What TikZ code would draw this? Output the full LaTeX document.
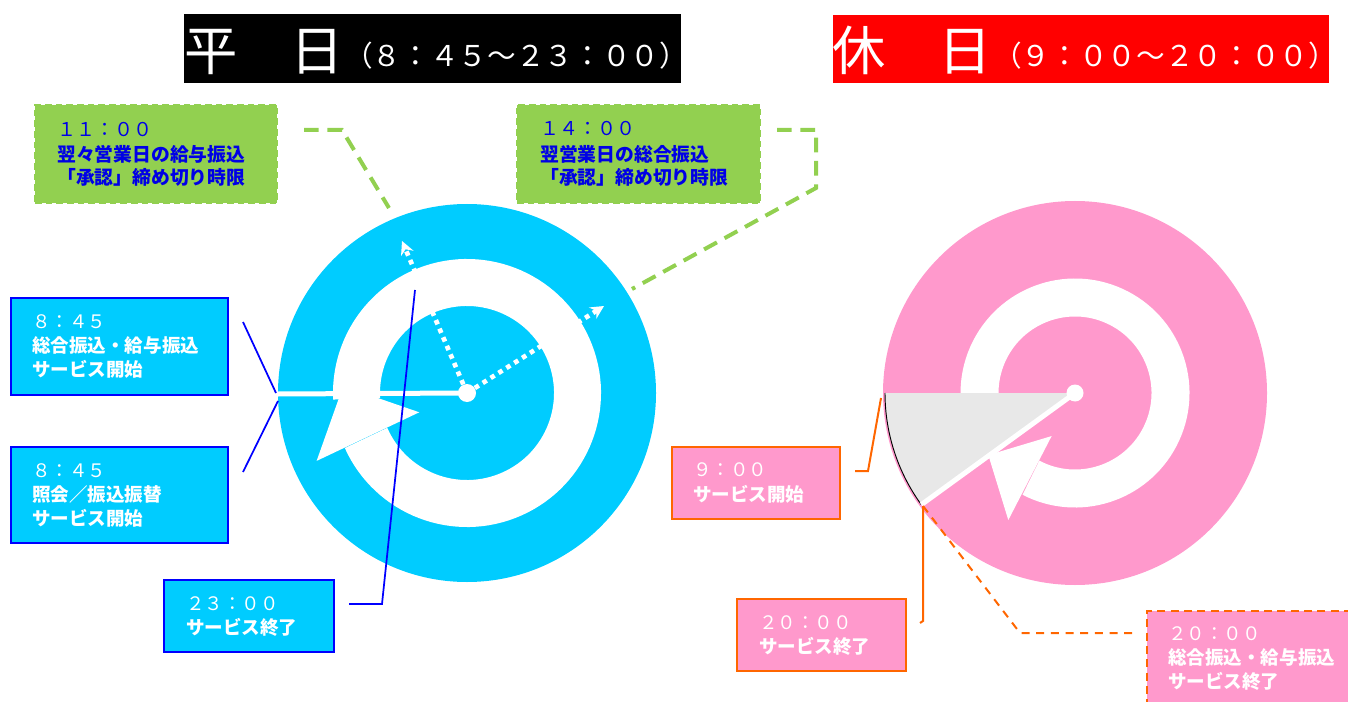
\documentclass[tikz,border=0pt]{standalone}
\usepackage{fontspec}
\newfontfamily\jp{Noto Sans CJK JP}
\usetikzlibrary{arrows.meta,fit,calc}
\definecolor{cyanb}{HTML}{00CCFF}
\definecolor{pinkb}{HTML}{FF99CC}
\definecolor{grn}{HTML}{92D050}
\definecolor{org}{HTML}{FF6600}
\definecolor{bluet}{RGB}{0,0,230}
\definecolor{bluel}{HTML}{0000FF}
\definecolor{wedgec}{HTML}{E8E8E8}
\begin{document}
\begin{tikzpicture}[x=0.75pt,y=-0.75pt,
  txt/.style={anchor=base west, inner sep=0pt, text=white, font=\jp\fontsize{13.9}{16}\selectfont},
  txtb/.style={txt, font=\jp\bfseries\fontsize{13.9}{16}\selectfont},
  gtxt/.style={txt, text=bluet, font=\jp\fontsize{14.3}{16}\selectfont},
  gtxtb/.style={txt, text=bluet, font=\jp\bfseries\fontsize{14.1}{16}\selectfont},
  ttlbig/.style={anchor=base west, inner sep=0pt, text=white, font=\jp\fontsize{40}{42}\selectfont},
  ttlsm/.style={anchor=base west, inner sep=0pt, text=white, font=\jp\fontsize{21.5}{24}\selectfont},
  cbox/.style={inner sep=0pt, fill=cyanb, draw=bluel, line width=1.5pt},
  gbox/.style={inner sep=0pt, fill=grn, draw=grn, line width=2pt, dash pattern=on 5pt off 3pt},
  pbox/.style={inner sep=0pt, fill=pinkb, draw=org, line width=1.6pt},
  pdbox/.style={inner sep=0pt, fill=pinkb, draw=org, line width=1.6pt, dash pattern=on 6pt off 4pt},
  gline/.style={draw=grn, line width=3pt, dash pattern=on 11pt off 6.5pt},
  bline/.style={draw=bluel, line width=1.3pt},
  oline/.style={draw=org, line width=1.5pt},
  odline/.style={draw=org, line width=1.5pt, dash pattern=on 6pt off 5pt},
  hand/.style={draw=white, line width=3.75pt},
  dhand/.style={draw=white, line width=3.5pt, dash pattern=on 3.5pt off 3.5pt, -{Stealth[length=10pt,width=10pt]}},
]
\useasboundingbox (0,0) rectangle (1348,702);
\clip (0,0) rectangle (1348,702);

% titles
\node[fit={(184,14) (681,83)}, inner sep=0pt, fill=black] (tL) {};
\node[ttlbig] (tL1) at (184,71) {平　日};
\node[ttlsm] (tL2) at (344,67) {（８：４５～２３：００）};
\node[fit={(833,15) (1329,83)}, inner sep=0pt, fill=red] (tR) {};
\node[ttlbig] (tR1) at (832,71) {休　日};
\node[ttlsm] (tR2) at (993,67) {（９：００～２０：００）};

% left clock
\coordinate (C1) at (467,393);
\fill[cyanb] (C1) circle[radius=189];
\draw[white, line width=35.25pt] ($(C1)+(156:110.5)$) arc[start angle=156, end angle=-183, radius=110.5];
\fill[white] ($(C1)+(-176.8:124)$) -- ($(C1)+(-204.3:165)$) -- ($(C1)+(-202:51.5)$) -- cycle;
\coordinate (H1) at (278,394);
\draw[hand] (C1) -- (H1);
\coordinate (D1) at (402,241);
\coordinate (D2) at (604,306);
\draw[dhand] (C1) -- (D1);
\draw[dhand] (C1) -- (D2);
\fill[white] (C1) circle[radius=9];

% right clock
\coordinate (C2) at (1075,393);
\fill[pinkb] (C2) circle[radius=192];
\draw[white, line width=28.5pt] ($(C2)+(117.5:95.5)$) arc[start angle=117.5, end angle=-205, radius=95.5];
\fill[white] ($(C2)+(-215.6:106.6)$) -- ($(C2)+(-242.3:143.5)$) -- ($(C2)+(-241.5:49)$) -- cycle;
\coordinate (W0) at ($(C2)+(-180:190)$);
\coordinate (WE) at ($(C2)+(-216:190)$);
\fill[wedgec] (C2) -- (W0) arc[start angle=-180, end angle=-216, radius=190] -- cycle;
\draw[black, line width=0.7pt] (W0) arc[start angle=-180, end angle=-216, radius=190];
\draw[hand] (C2) -- (WE);
\fill[white] (C2) circle[radius=8.5];

% green callouts
\node[gbox, fit={(35,105) (277,203)}] (g1) {};
\node[gtxt] (g1a) at (57,137) {１１：００};
\node[gtxtb] (g1b) at (57,161.5) {翌々営業日の給与振込};
\node[gtxtb] (g1c) at (57,185) {「承認」締め切り時限};
\node[gbox, fit={(517,105) (760,203)}] (g2) {};
\node[gtxt] (g2a) at (540,136) {１４：００};
\node[gtxtb] (g2b) at (540,161.5) {翌営業日の総合振込};
\node[gtxtb] (g2c) at (540,185) {「承認」締め切り時限};
\coordinate (ga1) at (304,130);
\coordinate (ga2) at (342,130);
\coordinate (ga3) at (389,208);
\draw[gline] (ga1) -- (ga2) -- (ga3);
\coordinate (gb1) at (777,130);
\coordinate (gb2) at (816,130);
\coordinate (gb3) at (816,188);
\coordinate (gb4) at (632,289);
\draw[gline] (gb1) -- (gb2) -- (gb3) -- (gb4);

% left boxes
\node[cbox, fit={(11,298) (228,395)}] (b1) {};
\node[txt] (b1a) at (32,328.5) {８：４５};
\node[txtb] (b1b) at (32,352.5) {総合振込・給与振込};
\node[txtb] (b1c) at (32,376.5) {サービス開始};
\node[cbox, fit={(11,447) (228,543)}] (b2) {};
\node[txt] (b2a) at (32,477.5) {８：４５};
\node[txtb] (b2b) at (32,501.5) {照会／振込振替};
\node[txtb] (b2c) at (32,525.5) {サービス開始};
\node[cbox, fit={(164,580) (334,652)}] (b3) {};
\node[txt] (b3a) at (186,610) {２３：００};
\node[txtb] (b3b) at (186,634.5) {サービス終了};
\coordinate (ba1) at (243,322);
\coordinate (ba2) at (276,393);
\coordinate (bb1) at (243,472);
\coordinate (bb2) at (278,401);
\coordinate (bc1) at (349,604);
\coordinate (bc2) at (382,604);
\coordinate (bc3) at (415,290);
\draw[bline] (ba1) -- (ba2);
\draw[bline] (bb1) -- (bb2);
\draw[bline] (bc1) -- (bc2) -- (bc3);

% right boxes
\node[pbox, fit={(672,447) (840,519)}] (p1) {};
\node[txt] (p1a) at (693,476) {９：００};
\node[txtb] (p1b) at (693,501) {サービス開始};
\node[pbox, fit={(737,599) (906,671)}] (p2) {};
\node[txt] (p2a) at (759,629) {２０：００};
\node[txtb] (p2b) at (759,653) {サービス終了};
\node[pdbox, fit={(1147,611) (1370,730)}] (p3) {};
\node[txt] (p3a) at (1168,640) {２０：００};
\node[txtb] (p3b) at (1168,664) {総合振込・給与振込};
\node[txtb] (p3c) at (1168,688) {サービス終了};
\coordinate (oa1) at (855,471);
\coordinate (oa2) at (868,471);
\coordinate (oa3) at (881,398);
\draw[oline] (oa1) -- (oa2) -- (oa3);
\coordinate (ob1) at (920,623);
\coordinate (ob2) at (923,621);
\coordinate (ob3) at (923,506);
\draw[oline] (ob1) -- (ob2) -- (ob3);
\coordinate (oc2) at (1020,633);
\coordinate (oc3) at (1132,633);
\draw[odline] (ob3) -- (oc2) -- (oc3);
\end{tikzpicture}
\end{document}
